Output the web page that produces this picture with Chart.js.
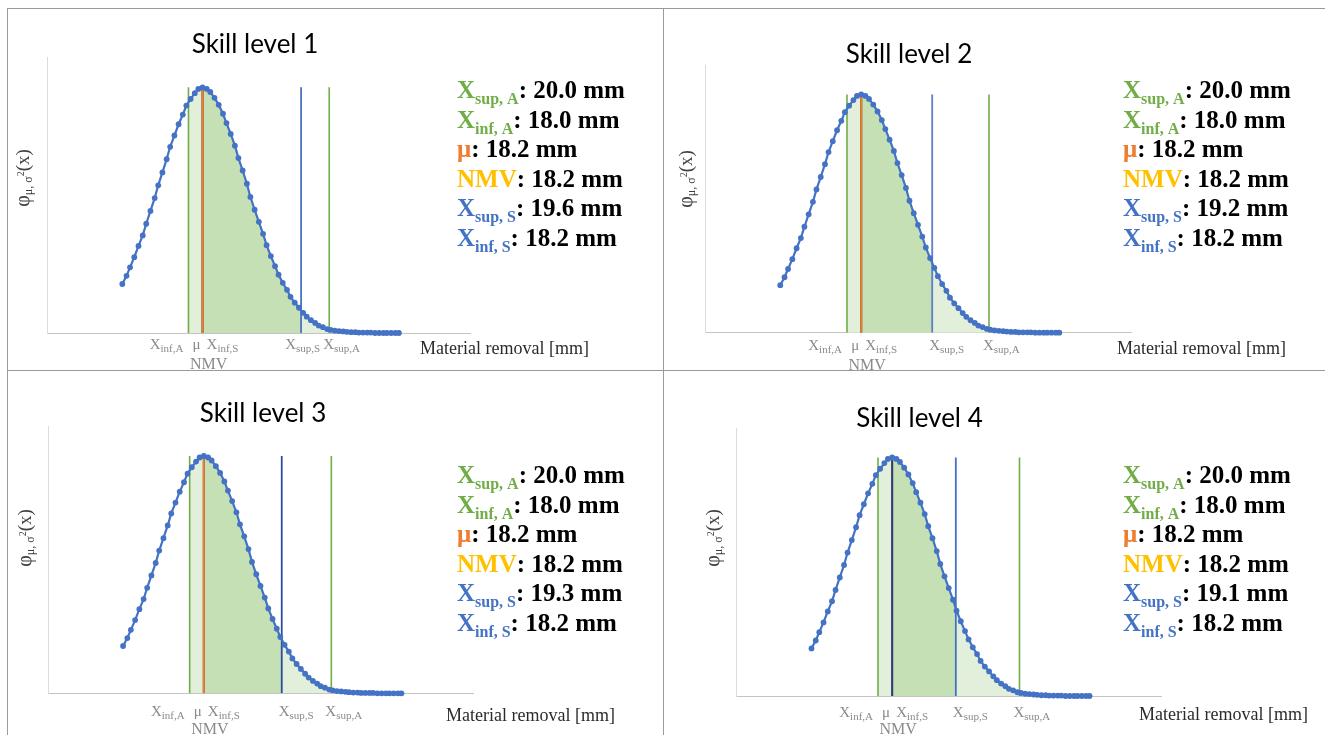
<!DOCTYPE html>
<html>
<head>
<meta charset="utf-8">
<script src="https://cdn.jsdelivr.net/npm/chart.js"></script>
<style>
  body { margin: 0; background: #fff; }
  #page { position: relative; width: 1325px; height: 735px; overflow: hidden; background: #fff; }
  #page canvas { position: absolute; }
  .rule { position: absolute; background: #9a9a9a; }
</style>
</head>
<body>
<div id="page"></div>
<script>
// Normal density of the material removal, same sampling for every skill level
const removalMm = [
  17.06, 17.12, 17.17, 17.23, 17.29, 17.35, 17.40, 17.46, 17.52, 17.57,
  17.63, 17.69, 17.74, 17.80, 17.86, 17.92, 17.97, 18.03, 18.09, 18.14,
  18.20, 18.26, 18.31, 18.37, 18.43, 18.49, 18.54, 18.60, 18.66, 18.71,
  18.77, 18.83, 18.88, 18.94, 19.00, 19.06, 19.11, 19.17, 19.23, 19.28,
  19.34, 19.40, 19.45, 19.51, 19.57, 19.63, 19.68, 19.74, 19.80, 19.85,
  19.91, 19.97, 20.02, 20.08, 20.14, 20.20, 20.25, 20.31, 20.37, 20.42,
  20.48, 20.54, 20.59, 20.65, 20.71, 20.77, 20.82, 20.88, 20.94, 20.99
];
const density = [
  0.126, 0.147, 0.169, 0.195, 0.224, 0.251, 0.281, 0.314, 0.347, 0.380,
  0.413, 0.447, 0.479, 0.508, 0.537, 0.562, 0.585, 0.602, 0.617, 0.628,
  0.632, 0.628, 0.620, 0.605, 0.587, 0.564, 0.540, 0.512, 0.482, 0.450,
  0.418, 0.384, 0.350, 0.317, 0.286, 0.255, 0.226, 0.198, 0.172, 0.150,
  0.129, 0.111, 0.093, 0.078, 0.065, 0.052, 0.042, 0.033, 0.026, 0.019,
  0.015, 0.010, 0.008, 0.006, 0.005, 0.004, 0.003, 0.002, 0.002, 0.001,
  0.001, 0.001, 0.001, 0.000, 0.000, 0.000, 0.000, 0.000, 0.000, 0.000
];

const skillLevels = ['Skill level 1', 'Skill level 2', 'Skill level 3', 'Skill level 4'];
const xSupA = [20.0, 20.0, 20.0, 20.0];
const xInfA = [18.0, 18.0, 18.0, 18.0];
const mu    = [18.2, 18.2, 18.2, 18.2];
const nmv   = [18.2, 18.2, 18.2, 18.2];
const xSupS = [19.6, 19.2, 19.3, 19.1];
const xInfS = [18.2, 18.2, 18.2, 18.2];

const GREEN = '#70AD47';
const ORANGE = '#ED7D31';
const YELLOW = '#FFC000';
const BLUE = '#4472C4';
const NAVY = '#23408E';
const LIGHT_FILL = '#E2EFDA';
const DARK_FILL = '#C5E0B4';
const TICK_GREY = '#8a8a8a';
const SERIF = '"Liberation Serif", "Times New Roman", serif';

// where each panel sits on the page and where its texts go (canvas-local px)
const panels = [
  { left: 0, top: 0, width: 662, height: 370, area: { left: 47.7, right: 470, top: 57, bottom: 333 },
    title: [255, 53], yLabel: [29, 178], xTitle: [420, 354], legend: [457, 98], tickY: 349, nmvY: 369,
    supSColor: '#4A72C0', infSOnTop: false },
  { left: 663, top: 0, width: 662, height: 370, area: { left: 42, right: 468, top: 65, bottom: 332.7 },
    title: [246, 63], yLabel: [29, 179], xTitle: [454, 354], legend: [460, 98], tickY: 350, nmvY: 370,
    supSColor: '#5B7FC8', infSOnTop: false },
  { left: 0, top: 371, width: 662, height: 364, area: { left: 48, right: 473, top: 55.7, bottom: 322.3 },
    title: [263, 51], yLabel: [31, 167], xTitle: [446, 350], legend: [457, 112], tickY: 345, nmvY: 363,
    supSColor: '#2F4D9E', infSOnTop: false },
  { left: 663, top: 371, width: 662, height: 364, area: { left: 73.5, right: 498, top: 57, bottom: 325 },
    title: [256.5, 56], yLabel: [56, 167], xTitle: [476, 349], legend: [460, 112], tickY: 346, nmvY: 363,
    supSColor: BLUE, infSOnTop: true },
];

const peakDensity = Math.max(...density);
const curvePoints = removalMm.map((x, k) => ({ x, y: density[k] }));

function runsWidth(ctx, runs) {
  let w = 0;
  runs.forEach(r => { ctx.font = r.font; w += ctx.measureText(r.text).width; });
  return w;
}

// draw a sequence of text pieces (for sub/superscripts) starting at x
function drawRuns(ctx, runs, x, y, align) {
  const w = runsWidth(ctx, runs);
  let cx = align === 'right' ? x - w : align === 'center' ? x - w / 2 : x;
  ctx.textAlign = 'left';
  ctx.textBaseline = 'alphabetic';
  runs.forEach(r => {
    ctx.font = r.font;
    ctx.fillStyle = r.color;
    ctx.fillText(r.text, cx, y + (r.dy || 0));
    cx += ctx.measureText(r.text).width;
  });
}

function fillUnderCurve(chart, from, to, color) {
  const { ctx, chartArea, scales: { x, y } } = chart;
  const pts = chart.getDatasetMeta(0).data;
  const x0 = x.getPixelForValue(from);
  const x1 = x.getPixelForValue(to);
  const base = y.getPixelForValue(0);
  ctx.save();
  ctx.beginPath();
  ctx.rect(x0, chartArea.top, x1 - x0, chartArea.bottom - chartArea.top);
  ctx.clip();
  ctx.beginPath();
  ctx.moveTo(pts[0].x, base);
  pts.forEach(p => ctx.lineTo(p.x, p.y));
  ctx.lineTo(pts[pts.length - 1].x, base);
  ctx.closePath();
  ctx.fillStyle = color;
  ctx.fill();
  ctx.restore();
}

function xLabel(sub) {
  return [
    { text: 'X', font: '15px ' + SERIF, color: TICK_GREY },
    { text: sub, font: '11px ' + SERIF, color: TICK_GREY, dy: 3 },
  ];
}

const panelDecor = {
  id: 'panelDecor',
  beforeDatasetsDraw(chart, args, opts) {
    const i = opts.panel;
    fillUnderCurve(chart, xInfA[i], xSupA[i], LIGHT_FILL);
    fillUnderCurve(chart, xInfS[i], xSupS[i], DARK_FILL);
  },
  afterDraw(chart, args, opts) {
    const i = opts.panel;
    const p = panels[i];
    const ctx = chart.ctx;
    const sx = chart.scales.x;
    ctx.save();

    // title
    ctx.font = '26px Lato';
    ctx.fillStyle = '#000';
    ctx.textAlign = 'center';
    ctx.textBaseline = 'alphabetic';
    ctx.fillText(skillLevels[i], p.title[0], p.title[1]);

    // y axis label, rotated
    ctx.save();
    ctx.translate(p.yLabel[0], p.yLabel[1]);
    ctx.rotate(-Math.PI / 2);
    drawRuns(ctx, [
      { text: 'φ', font: '20px ' + SERIF, color: '#404040' },
      { text: 'μ, σ', font: '12px ' + SERIF, color: '#404040', dy: 3 },
      { text: '2', font: '10px ' + SERIF, color: '#404040', dy: -5 },
      { text: '(x)', font: '19px ' + SERIF, color: '#404040' },
    ], 0, 0, 'center');
    ctx.restore();

    // x axis title
    drawRuns(ctx, [{ text: 'Material removal [mm]', font: '18px ' + SERIF, color: '#2b2b2b' }],
      p.xTitle[0], p.xTitle[1], 'left');

    // marker names under the axis
    const px = v => sx.getPixelForValue(v);
    drawRuns(ctx, xLabel('inf,A'), px(xInfA[i]) - 5, p.tickY, 'right');
    drawRuns(ctx, [{ text: 'μ', font: '15px ' + SERIF, color: TICK_GREY }], px(mu[i]) - 2, p.tickY, 'right');
    drawRuns(ctx, xLabel('inf,S'), px(xInfS[i]) + 4, p.tickY, 'left');
    drawRuns(ctx, [{ text: 'NMV', font: '16px ' + SERIF, color: TICK_GREY }], px(nmv[i]) + 6, p.nmvY, 'center');
    // keep the two upper-limit names apart when their lines are close
    const supALeft = px(xSupA[i]) - 6;
    const supS = xLabel('sup,S');
    const supSLeft = Math.min(px(xSupS[i]) - 3, supALeft - runsWidth(ctx, supS) - 3);
    drawRuns(ctx, supS, supSLeft, p.tickY, 'left');
    drawRuns(ctx, xLabel('sup,A'), supALeft, p.tickY, 'left');

    // value list on the right
    const rows = [
      { sym: 'X', sub: 'sup, A', color: GREEN, value: xSupA[i] },
      { sym: 'X', sub: 'inf, A', color: GREEN, value: xInfA[i] },
      { sym: 'μ', color: ORANGE, value: mu[i] },
      { sym: 'NMV', color: YELLOW, value: nmv[i] },
      { sym: 'X', sub: 'sup, S', color: BLUE, value: xSupS[i] },
      { sym: 'X', sub: 'inf, S', color: BLUE, value: xInfS[i] },
    ];
    rows.forEach((r, k) => {
      const runs = [{ text: r.sym, font: 'bold 25px ' + SERIF, color: r.color }];
      if (r.sub) runs.push({ text: r.sub, font: 'bold 16px ' + SERIF, color: r.color, dy: 6 });
      runs.push({ text: ': ' + r.value.toFixed(1) + ' mm', font: 'bold 25px ' + SERIF, color: '#000' });
      drawRuns(ctx, runs, p.legend[0], p.legend[1] + k * 29.6, 'left');
    });

    ctx.restore();
  }
};

function markerLine(value, color, width, order) {
  return {
    data: [{ x: value, y: 0 }, { x: value, y: peakDensity }],
    showLine: true,
    borderColor: color,
    borderWidth: width,
    pointRadius: 0,
    order,
  };
}

const page = document.getElementById('page');

panels.forEach((p, i) => {
  const canvas = document.createElement('canvas');
  canvas.width = p.width;
  canvas.height = p.height;
  canvas.style.left = p.left + 'px';
  canvas.style.top = p.top + 'px';
  page.appendChild(canvas);

  const infSOrder = p.infSOnTop ? 1 : 3;
  const muOrder = p.infSOnTop ? 3 : 1;

  new Chart(canvas, {
    type: 'scatter',
    data: {
      datasets: [
        {
          data: curvePoints,
          showLine: true,
          borderColor: BLUE,
          borderWidth: 2.2,
          pointRadius: 2.9,
          pointBackgroundColor: BLUE,
          pointBorderWidth: 0,
          tension: 0,
          clip: false,
          order: 0,
        },
        markerLine(mu[i], ORANGE, 2, muOrder),
        markerLine(xInfS[i], NAVY, 2, infSOrder),
        markerLine(nmv[i], YELLOW, 2, 4),
        markerLine(xSupS[i], p.supSColor, 1.8, 2),
        markerLine(xInfA[i], GREEN, 1.6, 5),
        markerLine(xSupA[i], GREEN, 1.6, 5),
      ]
    },
    options: {
      responsive: false,
      animation: false,
      events: [],
      layout: {
        padding: {
          left: p.area.left,
          right: p.width - p.area.right,
          top: p.area.top,
          bottom: p.height - p.area.bottom,
        }
      },
      scales: {
        x: {
          type: 'linear',
          min: 16,
          max: 22,
          ticks: { display: false },
          grid: { display: false, drawTicks: false },
          border: { display: true, color: '#c4c4c4', width: 1 },
        },
        y: {
          min: 0,
          max: 0.71,
          ticks: { display: false },
          grid: { display: false, drawTicks: false },
          border: { display: true, color: '#dcdcdc', width: 1 },
        }
      },
      plugins: {
        legend: { display: false },
        tooltip: { enabled: false },
        panelDecor: { panel: i },
      }
    },
    plugins: [panelDecor]
  });
});

// thin frame lines between the four panels
[
  { left: 7, top: 8, width: 1318, height: 1 },
  { left: 7, top: 8, width: 1, height: 727 },
  { left: 663, top: 8, width: 1, height: 727 },
  { left: 7, top: 370, width: 1318, height: 1 },
].forEach(r => {
  const d = document.createElement('div');
  d.className = 'rule';
  Object.assign(d.style, { left: r.left + 'px', top: r.top + 'px', width: r.width + 'px', height: r.height + 'px' });
  page.appendChild(d);
});
</script>
</body>
</html>
